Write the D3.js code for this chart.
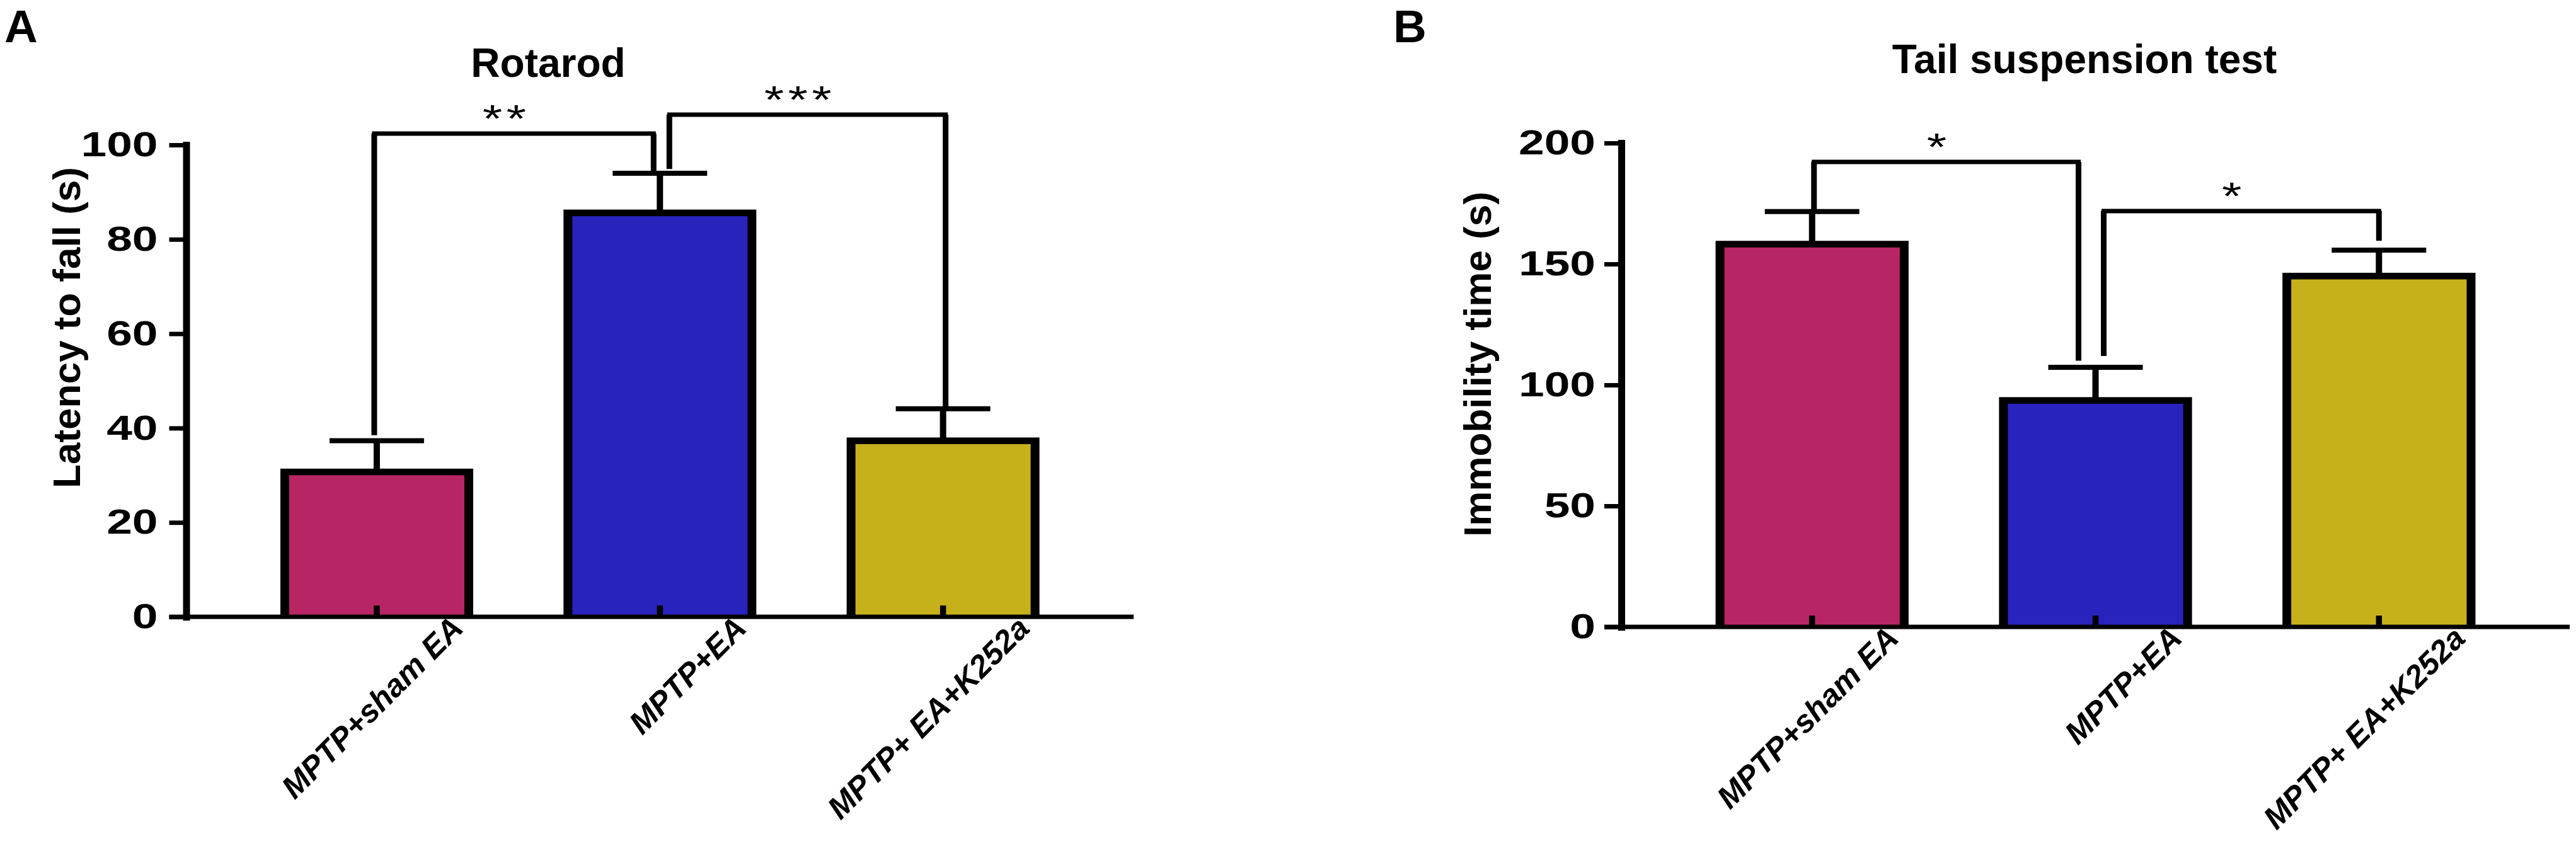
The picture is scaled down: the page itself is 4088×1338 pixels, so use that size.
<!DOCTYPE html>
<html><head><meta charset="utf-8">
<script src="https://cdn.jsdelivr.net/npm/d3@7"></script>
<style>html,body{margin:0;padding:0;background:#fff;} svg{display:block;}</style>
</head><body>
<svg id="chart" width="4088" height="1338"></svg>
<script>
// ---------- data ----------
const categories = ["MPTP+sham EA", "MPTP+EA", "MPTP+ EA+K252a"];
const barColors = ["#B82565", "#2823BC", "#C6B11B"];

const rotarodMeans = [30.7, 85.6, 37.3];
const rotarodSEM   = [6.6, 8.4, 6.8];
const rotarodTicks = [0, 20, 40, 60, 80, 100];

const tailMeans = [158.2, 93.6, 145.0];
const tailSEM   = [13.5, 13.7, 10.7];
const tailTicks = [0, 50, 100, 150, 200];

// significance brackets (values in axis units)
const rotarodSig = [
  {from: 0, to: 1, top: 102.4, endFrom: 38.5, endTo: 93.8, label: "**"},
  {from: 1, to: 2, top: 106.4, endFrom: 94.9, endTo: 44.1, label: "***"}
];
const tailSig = [
  {from: 0, to: 1, top: 192.2, endFrom: 171.7, endTo: 110.0, label: "*"},
  {from: 1, to: 2, top: 171.9, endFrom: 112.0, endTo: 159.6, label: "*"}
];

// ---------- layout ----------
const FONT = "'Liberation Sans', Arial, Helvetica, sans-serif";
const svg = d3.select("#chart");
svg.append("rect").attr("width", 4088).attr("height", 1338).attr("fill", "#fff");

const panels = [
  {letter: "A", letterX: 7, title: "Rotarod", titleX: 870, titleY: 122,
   ylabel: "Latency to fall (s)", ylabelX: 127, ylabelY: 520,
   left: 295.5, right: 1799, y0: 979, yTop: 230, max: 100,
   means: rotarodMeans, sem: rotarodSEM, ticks: rotarodTicks, sig: rotarodSig,
   legOff: [[-4, -10], [15, 4]], pad: 18},
  {letter: "B", letterX: 2211, title: "Tail suspension test", titleX: 3308, titleY: 116,
   ylabel: "Immobility time (s)", ylabelX: 2366, ylabelY: 578,
   left: 2573, right: 4078, y0: 995, yTop: 227, max: 200,
   means: tailMeans, sem: tailSEM, ticks: tailTicks, sig: tailSig,
   legOff: [[3, -27], [13, 0]], pad: 14}
];

panels.forEach(p => {
  const g = svg.append("g");
  const x = d3.scaleBand().domain(categories).range([p.left, p.right])
    .paddingInner(0.319).paddingOuter(0.3325);
  const y = d3.scaleLinear().domain([0, p.max]).range([p.y0, p.yTop]);
  const bw = x.bandwidth();
  const cx = i => x(categories[i]) + bw / 2;

  // panel letter
  g.append("text").attr("x", p.letterX).attr("y", 67)
    .attr("font-family", FONT).attr("font-weight", "bold").attr("font-size", 73)
    .text(p.letter);
  // title
  g.append("text").attr("x", p.titleX).attr("y", p.titleY).attr("text-anchor", "middle")
    .attr("font-family", FONT).attr("font-weight", "bold").attr("font-size", 64)
    .text(p.title);
  // y label
  g.append("text").attr("transform", `translate(${p.ylabelX},${p.ylabelY}) rotate(-90)`)
    .attr("text-anchor", "middle")
    .attr("font-family", FONT).attr("font-weight", "bold").attr("font-size", 62)
    .text(p.ylabel);

  // bars: black outline (outer) + coloured fill (inner)
  const bars = g.append("g");
  bars.selectAll("rect.outer").data(p.means).join("rect").attr("class", "outer")
    .attr("x", (d, i) => x(categories[i]))
    .attr("y", d => y(d) - 5.25)
    .attr("width", bw)
    .attr("height", d => p.y0 - y(d) + 5.25)
    .attr("fill", "#000");
  bars.selectAll("rect.inner").data(p.means).join("rect").attr("class", "inner")
    .attr("x", (d, i) => x(categories[i]) + 14)
    .attr("y", d => y(d) + 5.25)
    .attr("width", bw - 28)
    .attr("height", d => p.y0 - y(d) - 5.25)
    .attr("fill", (d, i) => barColors[i]);

  // error bars (upper SEM)
  const eb = g.append("g");
  eb.selectAll("line.stem").data(p.means).join("line").attr("class", "stem")
    .attr("x1", (d, i) => cx(i)).attr("x2", (d, i) => cx(i))
    .attr("y1", d => y(d)).attr("y2", (d, i) => y(d + p.sem[i]))
    .attr("stroke", "#000").attr("stroke-width", 10);
  eb.selectAll("line.cap").data(p.means).join("line").attr("class", "cap")
    .attr("x1", (d, i) => cx(i) - 75).attr("x2", (d, i) => cx(i) + 75)
    .attr("y1", (d, i) => y(d + p.sem[i])).attr("y2", (d, i) => y(d + p.sem[i]))
    .attr("stroke", "#000").attr("stroke-width", 8);

  // x axis baseline
  g.append("line").attr("x1", p.left - 27).attr("x2", p.right)
    .attr("y1", p.y0).attr("y2", p.y0).attr("stroke", "#000").attr("stroke-width", 7);

  // x axis (inward ticks + rotated labels)
  const xa = g.append("g").attr("transform", `translate(0,${p.y0})`)
    .call(d3.axisBottom(x).tickSize(-18).tickSizeOuter(0).tickPadding(0));
  xa.select(".domain").remove();
  xa.selectAll(".tick line").attr("stroke", "#000").attr("stroke-width", 9.5);
  xa.selectAll(".tick text")
    .attr("y", null).attr("dy", null)
    .attr("transform", "translate(140,21) rotate(-45)")
    .attr("text-anchor", "end")
    .attr("fill", "#000")
    .attr("font-family", FONT).attr("font-weight", "bold").attr("font-style", "italic")
    .attr("font-size", 50);

  // y axis
  const ya = g.append("g").attr("transform", `translate(${p.left},0)`)
    .call(d3.axisLeft(y).tickValues(p.ticks).tickSize(27).tickSizeOuter(0).tickPadding(p.pad));
  ya.select(".domain").attr("stroke", "#000").attr("stroke-width", 11).attr("stroke-linecap", "square");
  ya.selectAll(".tick line").attr("stroke", "#000").attr("stroke-width", 7);
  const sx = 1.33;
  ya.selectAll(".tick text")
    .attr("x", -(27 + p.pad) / sx)
    .attr("transform", `scale(${sx},1)`)
    .attr("fill", "#000")
    .attr("font-family", FONT).attr("font-weight", "bold").attr("font-size", 55);

  // significance brackets
  const sg = g.append("g");
  p.sig.forEach((s, k) => {
    const xa1 = cx(s.from) + p.legOff[k][0];
    const xb1 = cx(s.to) + p.legOff[k][1];
    const yt = y(s.top);
    sg.append("line").attr("x1", xa1).attr("x2", xb1).attr("y1", yt).attr("y2", yt)
      .attr("stroke", "#000").attr("stroke-width", 7).attr("stroke-linecap", "square");
    sg.append("line").attr("x1", xa1).attr("x2", xa1).attr("y1", yt).attr("y2", y(s.endFrom))
      .attr("stroke", "#000").attr("stroke-width", 9);
    sg.append("line").attr("x1", xb1).attr("x2", xb1).attr("y1", yt).attr("y2", y(s.endTo))
      .attr("stroke", "#000").attr("stroke-width", 9);
    sg.append("text")
      .attr("transform", `translate(${(xa1 + xb1) / 2 - 12},${yt - 3}) scale(1.3,1)`)
      .attr("text-anchor", "middle")
      .attr("letter-spacing", 5)
      .attr("font-family", FONT).attr("font-size", 62)
      .text(s.label);
  });
});
</script>
</body></html>
